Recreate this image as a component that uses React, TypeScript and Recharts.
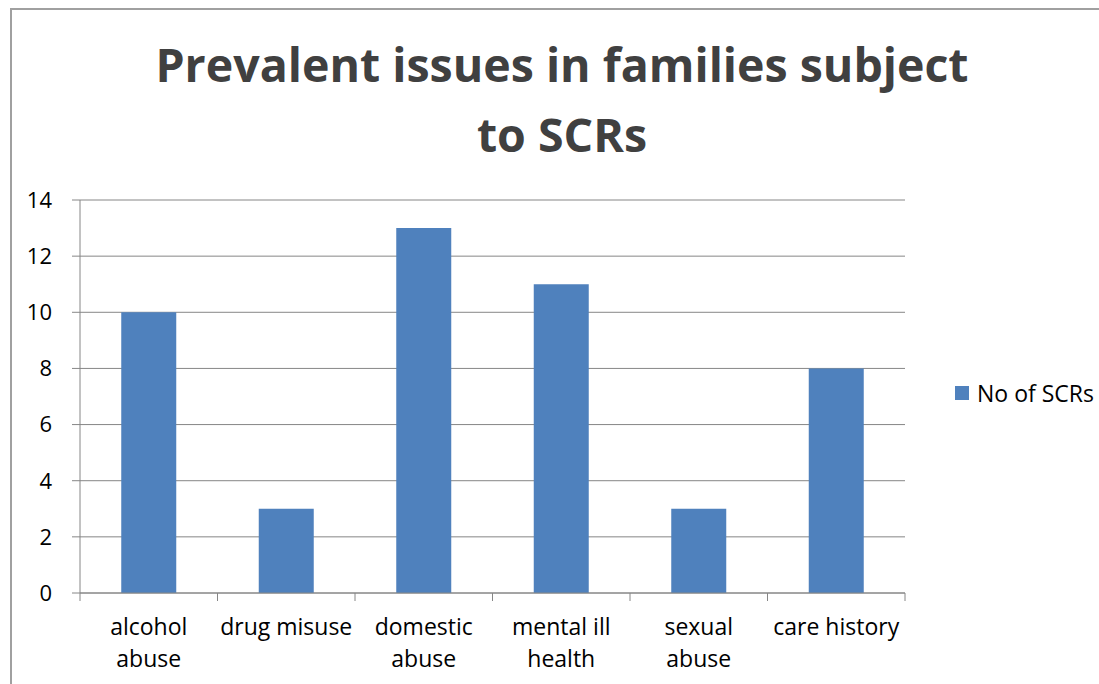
import { BarChart, Bar, XAxis, YAxis, CartesianGrid, Legend } from "recharts";

// tick labels, line breaks where the axis wraps them
const categories = [
  "alcohol\nabuse",
  "drug misuse",
  "domestic\nabuse",
  "mental ill\nhealth",
  "sexual\nabuse",
  "care history",
];
const scrCounts = [10, 3, 13, 11, 3, 8];
const yTicks = [0, 2, 4, 6, 8, 10, 12, 14];

const chartData = categories.map((name, i) => ({ name, scrs: scrCounts[i] }));

const FONT = "'Open Sans', sans-serif";
const AXIS_GREY = "#868686";
const BAR_BLUE = "#4F81BD";

// category label plus the small divider ticks between the bands
const CategoryTick = (props: any) => {
  const { x, y, payload, index, visibleTicksCount } = props;
  const half = payload.offset || 0;
  const lines = String(payload.value).split("\n");
  return (
    <g>
      <line x1={x - half} x2={x - half} y1={y - 8} y2={y} stroke={AXIS_GREY} />
      {index === visibleTicksCount - 1 && (
        <line x1={x + half} x2={x + half} y1={y - 8} y2={y} stroke={AXIS_GREY} />
      )}
      <text x={x} y={y} textAnchor="middle" fill="#000" fontSize={23} fontFamily={FONT}>
        {lines.map((l, i) => (
          <tspan key={i} x={x} y={y + 34 + i * 32}>
            {l}
          </tspan>
        ))}
      </text>
    </g>
  );
};

const LegendBox = () => (
  <div style={{ display: "flex", alignItems: "center", paddingLeft: 50, fontFamily: FONT, fontSize: 23, color: "#000" }}>
    <span style={{ width: 14, height: 14, background: BAR_BLUE, display: "inline-block", marginRight: 8 }} />
    <span>No of SCRs</span>
  </div>
);

const App = () => {
  return (
    <div style={{ position: "absolute", left: 0, top: 0, width: 1099, height: 684, overflow: "hidden", background: "#fff" }}>
      <div style={{ position: "absolute", left: 10, top: 8, width: 1200, height: 800, border: "2px solid #a0a0a0" }} />
      <div
        style={{
          position: "absolute",
          left: 132,
          top: 29,
          width: 860,
          textAlign: "center",
          fontFamily: FONT,
          fontWeight: 700,
          fontSize: 46.5,
          lineHeight: "70px",
          color: "#404040",
        }}
      >
        Prevalent issues in families subject to SCRs
      </div>
      <div style={{ position: "absolute", left: 0, top: 0 }}>
        <BarChart
          width={1099}
          height={684}
          data={chartData}
          margin={{ top: 200, right: 0, bottom: 0, left: 0 }}
          barCategoryGap="30%"
        >
          <CartesianGrid vertical={false} stroke={AXIS_GREY} />
          <XAxis
            dataKey="name"
            height={91}
            axisLine={{ stroke: AXIS_GREY }}
            tickLine={false}
            tickSize={8}
            tickMargin={0}
            interval={0}
            tick={<CategoryTick />}
          />
          <YAxis
            width={80}
            domain={[0, 14]}
            ticks={yTicks}
            interval={0}
            axisLine={{ stroke: AXIS_GREY }}
            tickLine={{ stroke: AXIS_GREY }}
            tickSize={8}
            tickMargin={20}
            tick={{ fill: "#000", fontSize: 22, fontFamily: FONT }}
          />
          <Legend
            layout="vertical"
            align="right"
            verticalAlign="top"
            content={<LegendBox />}
            wrapperStyle={{ width: 194, top: 377 }}
          />
          <Bar dataKey="scrs" name="No of SCRs" fill={BAR_BLUE} isAnimationActive={false} />
        </BarChart>
      </div>
    </div>
  );
};

export default App;
